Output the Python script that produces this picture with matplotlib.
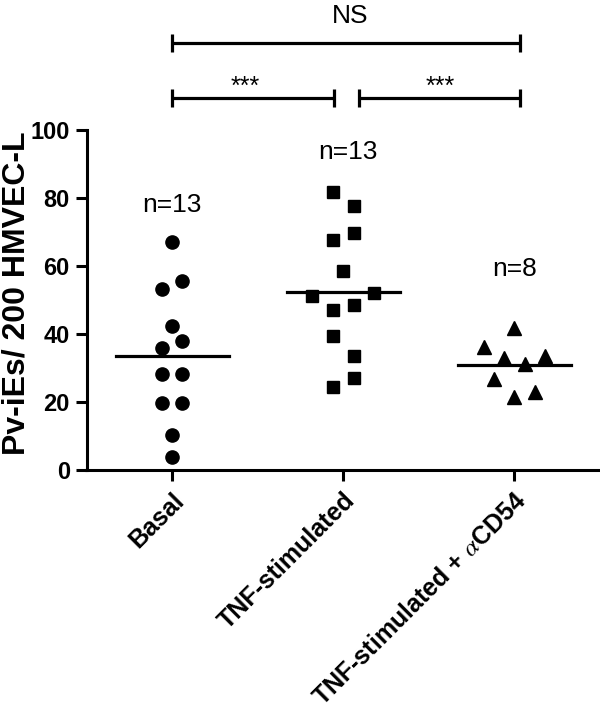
import matplotlib
matplotlib.use("Agg")
import matplotlib.pyplot as plt
import numpy as np

plt.rcParams['font.family'] = ['Liberation Sans', 'DejaVu Sans']
plt.rcParams['mathtext.fontset'] = 'stix'

# ---- data ----
categories = ["Basal", "TNF-stimulated", "TNF-stimulated + $\\alpha$CD54"]
basal = [67.1, 55.7, 53.1, 42.4, 37.9, 35.8, 28.2, 28.2, 19.6, 19.6, 10.3, 3.9]
tnf = [81.9, 77.7, 69.6, 67.6, 58.6, 52.2, 51.2, 48.6, 47.1, 39.5, 33.5, 27.0, 24.5]
tnf_acd54 = [41.7, 36.1, 33.6, 32.8, 31.1, 26.7, 23.0, 21.6]
n_labels = ["n=13", "n=13", "n=8"]
y_ticks = [0, 20, 40, 60, 80, 100]

# jitter slots (layout, in units of one marker step)
basal_slot = [0, 1, -1, 0, 1, -1, -1, 1, -1, 1, 0, 0]
tnf_slot = [-1, 1, 1, -1, 0, 3, -3, 1, -1, -1, 1, 1, -1]
acd54_slot = [0, -3, 3, -1, 1, -2, 2, 0]

groups = [basal, tnf, tnf_acd54]
slots = [basal_slot, tnf_slot, acd54_slot]
markers = ['o', 's', '^']
step = 0.06
half_w = 0.33

fig = plt.figure(figsize=(6.0, 7.21), dpi=100)
ax = fig.add_axes([86.5/600, 251/721, (600-86.5)/600, 340/721])

for i, (vals, sl, m) in enumerate(zip(groups, slots, markers)):
    xs = i + step*np.array(sl)
    ax.plot(xs, vals, linestyle='none', marker=m, color='black',
            markersize=9.5 if m != 's' else 9.3, zorder=3, clip_on=False)
    mean = np.mean(vals)
    ax.plot([i-half_w, i+half_w], [mean, mean], color='black', lw=2.3, zorder=2)

ax.set_xlim(-0.5, 2.5)
ax.set_ylim(0, 100)
ax.set_yticks(y_ticks)
ax.set_xticks(range(len(categories)))
ax.set_xticklabels(categories, rotation=45, ha='right', rotation_mode='anchor',
                   fontsize=18, fontweight='bold')
ax.tick_params(axis='y', labelsize=17, width=2.2, length=8, pad=4)
ax.tick_params(axis='x', width=2.2, length=8, pad=5)
for lab in ax.get_yticklabels():
    lab.set_fontweight('bold')
ax.set_ylabel("Pv-iEs/ 200 HMVEC-L", fontsize=23, fontweight='bold')
ax.yaxis.set_label_coords(-0.108, 0.52)

for s in ['top', 'right']:
    ax.spines[s].set_visible(False)
for s in ['left', 'bottom']:
    ax.spines[s].set_linewidth(2.2)

# n labels
n_x = [0, 1.03, 2.0]
n_y = [78, 93.5, 59]
for xx, yy, t in zip(n_x, n_y, n_labels):
    ax.text(xx, yy, t, ha='center', va='center', fontsize=19)

# significance brackets
def bracket(x0, x1, y, cap=2.7):
    ax.plot([x0, x1], [y, y], color='black', lw=2.3, clip_on=False, solid_capstyle='butt')
    for x in (x0, x1):
        ax.plot([x, x], [y-cap, y+cap], color='black', lw=2.3, clip_on=False, solid_capstyle='butt')

bracket(0.0, 2.03, 125.6)
bracket(0.0, 0.945, 109.4)
bracket(1.09, 2.03, 109.4)
ax.text(1.04, 133.5, "NS", ha='center', va='center', fontsize=19, clip_on=False)
ax.text(0.425, 110.5, "***", ha='center', va='baseline', fontsize=18, clip_on=False)
ax.text(1.565, 110.5, "***", ha='center', va='baseline', fontsize=18, clip_on=False)

fig.savefig("out.png", dpi=100)
